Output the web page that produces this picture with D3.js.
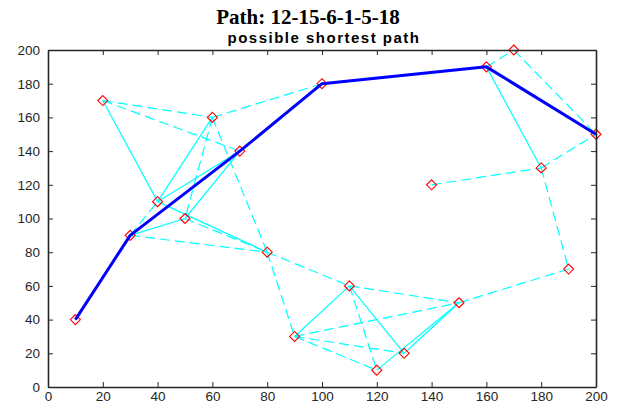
<!DOCTYPE html>
<html>
<head>
<meta charset="utf-8">
<script src="https://cdn.jsdelivr.net/npm/d3@7"></script>
<style>
  body { margin: 0; background: #fff; }
  svg { display: block; }
</style>
</head>
<body>
<div id="chart"></div>
<script>
// node coordinates
const nodeX = [10, 20, 30, 40, 50, 60, 70, 80, 90, 100, 110, 120, 130, 140, 150, 160, 170, 180, 190, 200]
const nodeY = [40, 170, 90, 110, 100, 160, 140, 80, 30, 180, 60, 10, 20, 120, 50, 190, 200, 130, 70, 150]

// edges as index pairs
const solidEdges = [
    [1, 3], [3, 5], [3, 6], [4, 6], [2, 4], [3, 7], [2, 6], [0, 2],
    [8, 10], [10, 12], [11, 14], [12, 14], [15, 17], [6, 9], [9, 15], [15, 19]
]
const dashedEdges = [
    [1, 5], [1, 6], [5, 9], [5, 4], [5, 7], [2, 3], [4, 7], [2, 7],
    [7, 10], [10, 14], [7, 8], [8, 14], [8, 12], [8, 11], [10, 11],
    [14, 18], [15, 16], [16, 19], [17, 19], [13, 17], [17, 18]
]

// shortest path (node indices)
const pathNodes = [0, 2, 6, 9, 15, 19]

const xTicks = [0, 20, 40, 60, 80, 100, 120, 140, 160, 180, 200]
const yTicks = [0, 20, 40, 60, 80, 100, 120, 140, 160, 180, 200]

const width = 619
const height = 405
const margin = { top: 50, right: 23, bottom: 18, left: 48 }

const svg = d3.select('#chart').append('svg')
    .attr('width', width).attr('height', height)

const xScale = d3.scaleLinear().domain([0, 200]).range([margin.left, width - margin.right])
const yScale = d3.scaleLinear().domain([0, 200]).range([height - margin.bottom, margin.top])

const axisColor = '#262626'

// edges
const edgeLayer = svg.append('g')
edgeLayer.selectAll('.solid-edge').data(solidEdges)
    .enter().append('line')
    .attr('class', 'solid-edge')
    .attr('x1', d => xScale(nodeX[d[0]])).attr('y1', d => yScale(nodeY[d[0]]))
    .attr('x2', d => xScale(nodeX[d[1]])).attr('y2', d => yScale(nodeY[d[1]]))
    .attr('stroke', '#00ffff').attr('stroke-width', 1.2)

edgeLayer.selectAll('.dashed-edge').data(dashedEdges)
    .enter().append('line')
    .attr('class', 'dashed-edge')
    .attr('x1', d => xScale(nodeX[d[0]])).attr('y1', d => yScale(nodeY[d[0]]))
    .attr('x2', d => xScale(nodeX[d[1]])).attr('y2', d => yScale(nodeY[d[1]]))
    .attr('stroke', '#00ffff').attr('stroke-width', 1.2)
    .attr('stroke-dasharray', '10,5')

// nodes: red diamonds
const r = 5
svg.selectAll('.node').data(nodeX)
    .enter().append('path')
    .attr('class', 'node')
    .attr('d', (d, i) => {
        const cx = xScale(d), cy = yScale(nodeY[i])
        return `M${cx},${cy - r}L${cx + r},${cy}L${cx},${cy + r}L${cx - r},${cy}Z`
    })
    .attr('fill', 'none').attr('stroke', '#ff0000').attr('stroke-width', 1.1)

// shortest path
const line = d3.line().x(i => xScale(nodeX[i])).y(i => yScale(nodeY[i]))
svg.append('path')
    .datum(pathNodes)
    .attr('d', line)
    .attr('fill', 'none')
    .attr('stroke', '#0000ff')
    .attr('stroke-width', 3)
    .attr('stroke-linejoin', 'round')

// axes (ticks inward, box on)
svg.append('g')
    .attr('transform', `translate(0,${yScale(0)})`)
    .call(d3.axisBottom(xScale).tickValues(xTicks).tickSizeInner(-5).tickSizeOuter(0).tickPadding(4))
svg.append('g')
    .attr('transform', `translate(0,${yScale(200)})`)
    .call(d3.axisTop(xScale).tickValues(xTicks).tickSizeInner(-5).tickSizeOuter(0).tickFormat(''))
svg.append('g')
    .attr('transform', `translate(${xScale(0)},0)`)
    .call(d3.axisLeft(yScale).tickValues(yTicks).tickSizeInner(-5).tickSizeOuter(0).tickPadding(8))
svg.append('g')
    .attr('transform', `translate(${xScale(200)},0)`)
    .call(d3.axisRight(yScale).tickValues(yTicks).tickSizeInner(-5).tickSizeOuter(0).tickFormat(''))

svg.selectAll('.domain').attr('stroke', axisColor).attr('stroke-width', 1.6)
svg.selectAll('.tick line').attr('stroke', axisColor).attr('stroke-width', 1)
svg.selectAll('.tick text')
    .style('font-family', '"Liberation Sans", Arial, sans-serif')
    .style('font-size', '13.5px')
    .style('fill', axisColor)

// titles
svg.append('text')
    .attr('x', 308).attr('y', 24)
    .attr('text-anchor', 'middle')
    .style('font-family', '"Liberation Serif", "Times New Roman", serif')
    .style('font-weight', 'bold')
    .style('font-size', '21px')
    .style('fill', '#000')
    .text('Path: 12-15-6-1-5-18')

svg.append('text')
    .attr('x', 324).attr('y', 43)
    .attr('text-anchor', 'middle')
    .style('font-family', '"Liberation Sans", Arial, sans-serif')
    .style('font-weight', 'bold')
    .style('font-size', '15px')
    .style('letter-spacing', '1.5px')
    .style('fill', '#000')
    .text('possible shortest path')
</script>
</body>
</html>
